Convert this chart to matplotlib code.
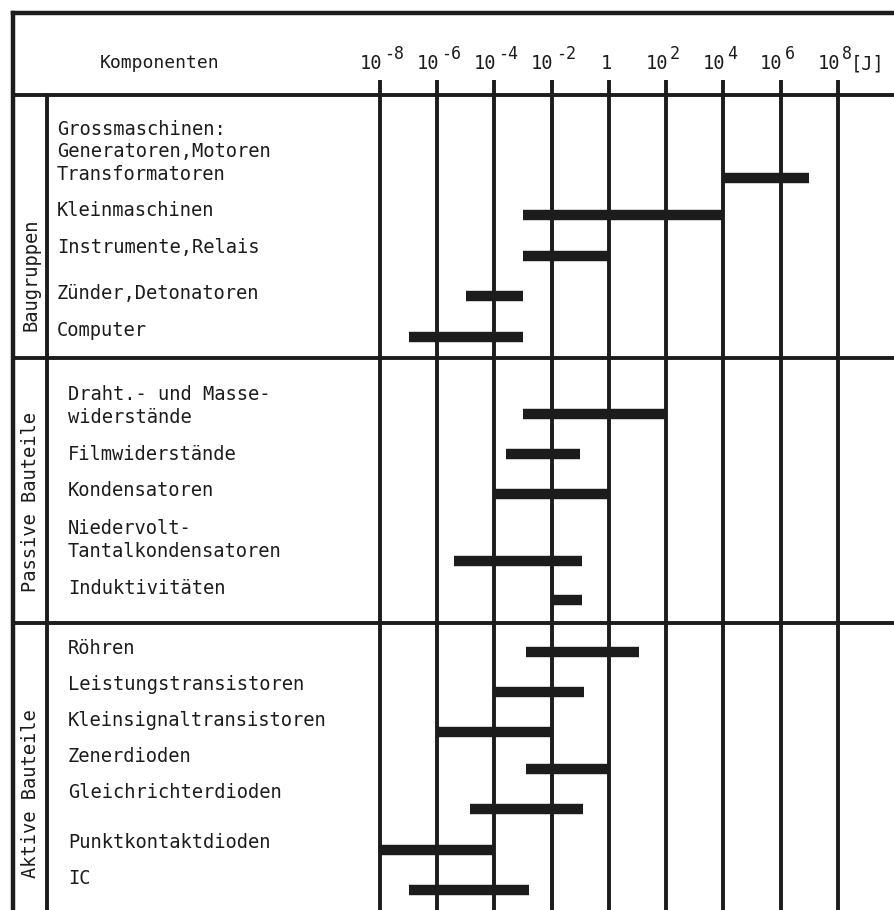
import numpy as np
import matplotlib.pyplot as plt
from matplotlib.transforms import offset_copy

plt.rcParams['font.family'] = ['DejaVu Sans Mono', 'DejaVu Sans']

# energy decades shown in the header
exponents = [-8, -6, -4, -2, 0, 2, 4, 6, 8]

groups = ['Baugruppen', 'Passive Bauteile', 'Aktive Bauteile']

components = [
    'Grossmaschinen:\nGeneratoren,Motoren\nTransformatoren',
    'Kleinmaschinen',
    'Instrumente,Relais',
    'Zünder,Detonatoren',
    'Computer',
    'Draht.- und Masse-\nwiderstände',
    'Filmwiderstände',
    'Kondensatoren',
    'Niedervolt-\nTantalkondensatoren',
    'Induktivitäten',
    'Röhren',
    'Leistungstransistoren',
    'Kleinsignaltransistoren',
    'Zenerdioden',
    'Gleichrichterdioden',
    'Punktkontaktdioden',
    'IC',
]
component_group = [0, 0, 0, 0, 0, 1, 1, 1, 1, 1, 2, 2, 2, 2, 2, 2, 2]

# energy range in log10(J)
log_lo = [4, -3, -3, -5, -7, -3, -3.6, -4, -5.4, -2,
          -2.9, -4, -6, -2.9, -4.85, -8, -7]
log_hi = [7, 4, 0, -3, -3, 2, -1, 0, -0.93, -0.95,
          1.05, -0.87, -2, 0, -0.9, -4, -2.8]

# layout (pixel rows of the table)
W, H = 895, 910
text_y = [152, 210, 247, 293, 330, 406, 455, 491, 540, 588,
          648, 684, 720, 757, 793, 842, 878]
bar_y = [178, 215, 256, 296, 337, 414, 454, 494, 561, 600,
         652, 692, 732, 769, 809, 850, 890]
group_bounds = [(95, 358), (358, 623), (623, H)]
group_centre = [275, 502, 794]
text_x = [57, 68, 68]

ink = '#1c1c1c'
fs = 13.5

fig = plt.figure(figsize=(W / 100, H / 100), dpi=100)
bg = fig.add_axes([0, 0, 1, 1])
bg.set_xlim(0, W)
bg.set_ylim(H, 0)
bg.axis('off')

# table frame
bg.plot([13, W], [13, 13], color=ink, lw=3.2)
bg.plot([13, 13], [13, H], color=ink, lw=3.2)
bg.plot([47, 47], [95, H], color=ink, lw=2.8)
for top, bottom in group_bounds:
    bg.plot([13, W], [top, top], color=ink, lw=2.8)

bg.text(100, 68, 'Komponenten', fontsize=13, color=ink, va='baseline')

for g in range(len(groups)):
    bg.text(31, group_centre[g], groups[g], rotation=90, fontsize=fs,
            color=ink, ha='center', va='center')

for name, g, y in zip(components, component_group, text_y):
    bg.text(text_x[g], y, name, fontsize=fs, color=ink, va='center',
            linespacing=1.25)

# chart part with a log energy axis
ax = fig.add_axes([380 / W, 0, 1 - 380 / W, 1])
ax.set_xscale('log')
ax.set_xlim(1e-8, 1e10)
ax.set_ylim(H, 0)
ax.axis('off')
ax.patch.set_alpha(0)

decades = 10.0 ** np.array(exponents)
ax.vlines(decades, 80, H, color=ink, lw=2.8, clip_on=False)


def shifted(dx, dy):
    return offset_copy(ax.transData, fig=fig, x=dx, y=dy, units='dots')


for e in exponents:
    if e == 0:
        ax.text(1.0, 69, '1', fontsize=fs, color=ink, ha='center',
                va='baseline', transform=shifted(-3, 0))
        continue
    ax.text(10.0 ** e, 69, '10', fontsize=fs, color=ink, ha='right',
            va='baseline', transform=shifted(2, 0))
    ax.text(10.0 ** e, 69, str(e), fontsize=12, color=ink, ha='left',
            va='baseline', transform=shifted(4, 10))
ax.text(10.0 ** 8, 69, '[J]', fontsize=fs, color=ink, ha='left',
        va='baseline', transform=shifted(13, 0))

ax.hlines(bar_y, 10.0 ** np.array(log_lo), 10.0 ** np.array(log_hi),
          color=ink, lw=7.5, capstyle='butt')

fig.savefig('out.png', dpi=100)
